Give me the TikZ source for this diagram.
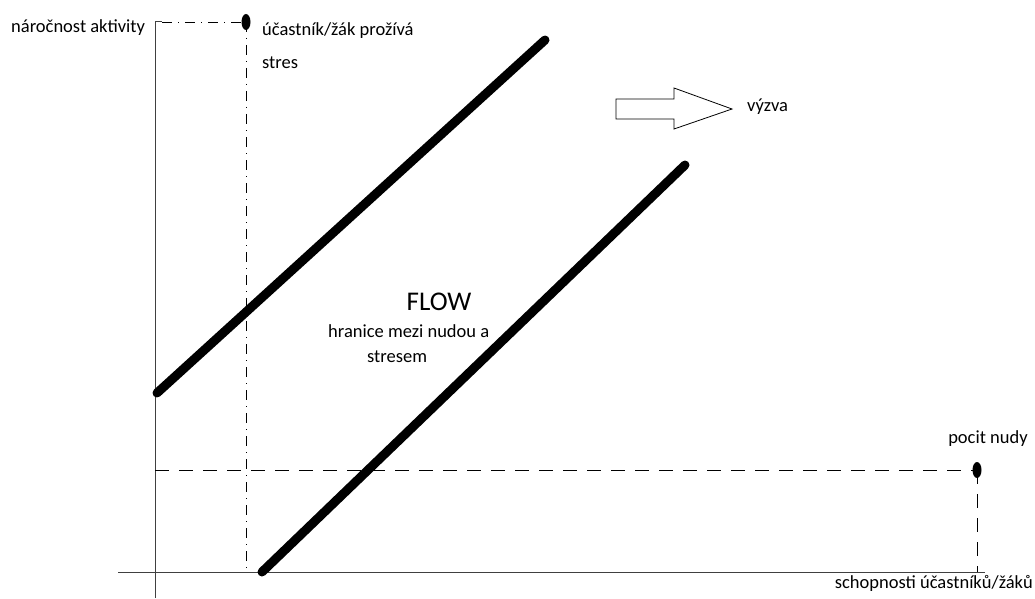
\documentclass[tikz,border=0pt]{standalone}
\usepackage{fontspec}
\setmainfont{Carlito}
\usetikzlibrary{shapes.geometric}
\begin{document}
\begin{tikzpicture}[x=1pt,y=-1pt,
  lbl/.style={inner sep=0pt,font=\fontsize{18.5}{22}\selectfont},
  axis/.style={line width=1pt,draw=black!75},
  thick line/.style={line width=9pt,line cap=round},
  dd/.style={line width=0.9pt,dash pattern=on 10pt off 6pt on 1pt off 6pt},
  dsh/.style={line width=0.9pt,dash pattern=on 14pt off 10pt},
  blob/.style={fill=black,ellipse,inner sep=0pt,minimum width=9pt,minimum height=16pt}]
\useasboundingbox (0,0) rectangle (1035,599);
% axes
\coordinate (ytop) at (155,22);
\coordinate (ybot) at (155,598);
\coordinate (xl) at (118,572);
\coordinate (xr) at (985,572);
\draw[axis] (ybot) -- (ytop) -- (162,22);
\draw[axis] (xl) -- (xr);
% stress marker
\coordinate (sa) at (162,22);
\node[blob] (s) at (246,22) {};
\coordinate (sb) at (246,572);
\draw[dd] (sa) -- (s.center);
\draw[dd] (s.center) -- (sb);
% boredom marker
\coordinate (na) at (155,470);
\node[blob] (n) at (977,470) {};
\coordinate (nb) at (977,572);
\draw[dsh] (na) -- (n.center);
\draw[dsh] (n.center) -- (nb);
% flow channel lines
\coordinate (u1) at (157,393);
\coordinate (u2) at (545,40);
\coordinate (l1) at (262,572);
\coordinate (l2) at (685,165);
\draw[thick line] (u1) -- (u2);
\draw[thick line] (l1) -- (l2);
% block arrow
\draw[line width=0.8pt,line join=miter] (616,99) -- (674,99) -- (674,88) -- (732,109) -- (674,129) -- (674,119) -- (616,119) -- cycle;
% labels
\node[lbl,anchor=west] (ya) at (11,28) {náročnost aktivity};
\node[lbl,anchor=west] (st1) at (262,31) {účastník/žák prožívá};
\node[lbl,anchor=west] (st2) at (262,63) {stres};
\node[lbl,anchor=west] (vy) at (747,107) {výzva};
\node[inner sep=0pt,font=\fontsize{27}{32}\selectfont] (fl) at (439,302) {FLOW};
\node[lbl,anchor=west] (h1) at (328,331) {hranice mezi nudou a};
\node[lbl,anchor=west] (h2) at (367,357) {stresem};
\node[lbl] (pn) at (988,439) {pocit nudy};
\node[lbl,anchor=east] (xa) at (1033,583) {schopnosti účastníků/žáků};
\end{tikzpicture}
\end{document}
